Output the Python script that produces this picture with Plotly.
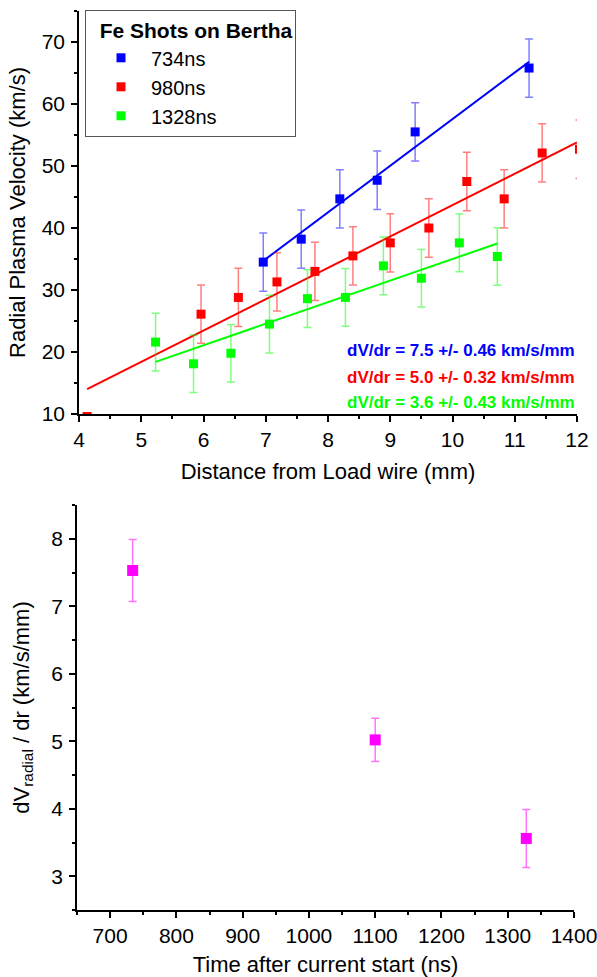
import plotly.graph_objects as go

# ---------------- top panel data ----------------
blue_x = [6.96, 7.57, 8.19, 8.79, 9.40, 11.23]
blue_y = [34.5, 38.2, 44.7, 47.7, 55.5, 65.8]
blue_err = [4.7, 4.7, 4.7, 4.7, 4.7, 4.7]

red_x = [4.13, 5.96, 6.56, 7.18, 7.79, 8.40, 9.00, 9.62, 10.23, 10.83, 11.44, 12.04]
red_y = [9.6, 26.1, 28.8, 31.3, 33.0, 35.5, 37.6, 40.0, 47.5, 44.7, 52.1, 52.7]
red_err = [0, 4.7, 4.7, 4.7, 4.7, 4.7, 4.7, 4.7, 4.7, 4.7, 4.7, 4.7]

green_x = [5.23, 5.84, 6.44, 7.06, 7.67, 8.28, 8.89, 9.50, 10.11, 10.72]
green_y = [21.6, 18.1, 19.8, 24.5, 28.6, 28.8, 33.9, 31.9, 37.6, 35.4]
green_err = [4.65, 4.65, 4.65, 4.65, 4.65, 4.65, 4.65, 4.65, 4.65, 4.65]

blue_fit_x = [6.96, 11.23]
blue_fit_y = [34.7, 66.8]
red_fit_x = [4.13, 12.0]
red_fit_y = [14.0, 53.8]
green_fit_x = [5.23, 10.72]
green_fit_y = [18.4, 37.5]

series_names = ["734ns", "980ns", "1328ns"]
slope_labels = ["dV/dr = 7.5 +/- 0.46 km/s/mm",
                "dV/dr = 5.0 +/- 0.32 km/s/mm",
                "dV/dr = 3.6 +/- 0.43 km/s/mm"]

# ---------------- bottom panel data ----------------
time_ns = [734, 1100, 1328]
slope = [7.53, 5.02, 3.56]
slope_err = [0.46, 0.32, 0.43]

FONT = "Arial, Liberation Sans, sans-serif"
colors = ["#0000FF", "#FF0000", "#00FF00"]
err_colors = ["rgba(0,0,255,0.5)", "rgba(255,0,0,0.5)", "rgba(0,255,0,0.5)"]

fig = go.Figure()

fits = [(blue_fit_x, blue_fit_y), (red_fit_x, red_fit_y), (green_fit_x, green_fit_y)]
for (fx, fy), c in zip(fits, colors):
    fig.add_trace(go.Scatter(x=fx, y=fy, mode="lines", line=dict(color=c, width=2),
                             showlegend=False, hoverinfo="skip", xaxis="x", yaxis="y"))

pts = [(blue_x, blue_y, blue_err), (red_x, red_y, red_err), (green_x, green_y, green_err)]
for (px, py, pe), c, ec, nm in zip(pts, colors, err_colors, series_names):
    fig.add_trace(go.Scatter(
        x=px, y=py, mode="markers", name=nm,
        marker=dict(symbol="square", size=9, color=c),
        error_y=dict(type="data", array=pe, visible=True, color=ec, thickness=1.5, width=4),
        xaxis="x", yaxis="y"))

fig.add_trace(go.Scatter(
    x=time_ns, y=slope, mode="markers", showlegend=False,
    marker=dict(symbol="square", size=11, color="#FF00FF"),
    error_y=dict(type="data", array=slope_err, visible=True,
                 color="rgba(255,0,255,0.55)", thickness=1.5, width=4),
    xaxis="x2", yaxis="y2"))

W, H = 597, 977
axis_common = dict(showline=True, linecolor="black", linewidth=1.5, ticks="outside",
                   ticklen=6, tickwidth=1.5, tickcolor="black", showgrid=False, zeroline=False,
                   tickfont=dict(family=FONT, size=21, color="black"), mirror=False,
                   automargin=False, ticklabeloverflow="allow")

fig.update_layout(
    width=W, height=H,
    margin=dict(l=0, r=0, t=0, b=0, pad=0, autoexpand=False),
    paper_bgcolor="white", plot_bgcolor="white",
    font=dict(family=FONT, color="black"),
    xaxis=dict(domain=[79 / W, 577 / W], range=[4, 12], dtick=1, anchor="y",
               minor=dict(ticks="outside", dtick=0.5, ticklen=3.5, tickwidth=1.5, tickcolor="black"),
               title=dict(text="Distance from Load wire (mm)", font=dict(size=22, family=FONT), standoff=14),
               ticklabelstandoff=0, **axis_common),
    yaxis=dict(domain=[(H - 414) / H, (H - 11) / H], range=[10, 75], dtick=10, anchor="x",
               minor=dict(ticks="outside", dtick=5, ticklen=3.5, tickwidth=1.5, tickcolor="black"),
               title=dict(text="Radial Plasma Velocity (km/s)", font=dict(size=22, family=FONT), standoff=10),
               ticklabelstandoff=2, **axis_common),
    xaxis2=dict(domain=[77 / W, 574 / W], range=[650, 1400], dtick=100, anchor="y2",
                minor=dict(ticks="outside", dtick=50, ticklen=3.5, tickwidth=1.5, tickcolor="black"),
                title=dict(text="Time after current start (ns)", font=dict(size=22, family=FONT), standoff=14),
                ticklabelstandoff=0, **axis_common),
    yaxis2=dict(domain=[(H - 910) / H, (H - 505) / H], range=[2.5, 8.5], dtick=1, anchor="x2",
                minor=dict(ticks="outside", dtick=0.5, ticklen=3.5, tickwidth=1.5, tickcolor="black"),
                title=dict(text="dV<sub>radial</sub> / dr (km/s/mm)", font=dict(size=22, family=FONT), standoff=16),
                ticklabelstandoff=2, **axis_common),
    legend=dict(x=85 / W, y=(H - 10) / H, xanchor="left", yanchor="top",
                bgcolor="white", bordercolor="#555555", borderwidth=1,
                font=dict(family=FONT, size=20, color="black"),
                title=dict(text="&nbsp;&nbsp;<b>Fe Shots on Bertha</b>",
                           font=dict(family=FONT, size=21, color="black")),
                indentation=5, itemwidth=50, tracegroupgap=0),
)

ann_y = [20.3, 15.9, 11.8]
for txt, c, yy in zip(slope_labels, colors, ann_y):
    fig.add_annotation(x=12, y=yy, xref="x", yref="y", text="<b>" + txt + "</b>",
                       showarrow=False, xanchor="right", yanchor="middle",
                       font=dict(family=FONT, size=17, color=c))

fig.write_html("out.html")
